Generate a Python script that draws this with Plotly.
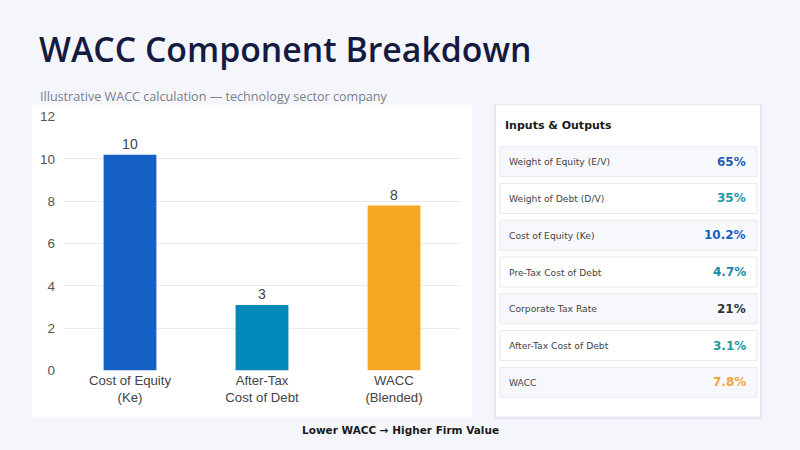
import plotly.graph_objects as go

W, H = 800, 450

# --- data ---
categories = ["Cost of Equity<br>(Ke)", "After-Tax<br>Cost of Debt", "WACC<br>(Blended)"]
bar_values = [10.2, 3.1, 7.8]
y_ticks = [0, 2, 4, 6, 8, 10, 12]

table_labels = [
    "Weight of Equity (E/V)",
    "Weight of Debt (D/V)",
    "Cost of Equity (Ke)",
    "Pre-Tax Cost of Debt",
    "Corporate Tax Rate",
    "After-Tax Cost of Debt",
    "WACC",
]
table_values = ["65%", "35%", "10.2%", "4.7%", "21%", "3.1%", "7.8%"]

# --- styles ---
bar_colors = ["#1560C4", "#0088B8", "#F5A623"]
value_colors = ["#1F5FAF", "#1A9AAA", "#1560C4", "#1A88AA", "#333333", "#1A9A9A", "#F0A63A"]
BG = "#F4F6FB"
NAVY = "#141A40"

# the capture squeezes the page a little vertically; undo that here
Y_SCALE, Y_OFF = 0.967, 6.3


def px_x(x):
    return x / W


def px_y(y):
    return 1 - ((y - Y_OFF) / Y_SCALE) / H


fig = go.Figure()

fig.add_trace(go.Bar(
    x=categories,
    y=bar_values,
    marker=dict(color=bar_colors, line=dict(width=0)),
    width=0.4,
    text=bar_values,
    texttemplate="%{y:.0f}",
    textposition="outside",
    textfont=dict(family="Liberation Sans, Arial", size=14, color="#444444"),
    cliponaxis=False,
    hovertemplate="%{x}: %{y:.1f}%<extra></extra>",
))

shapes = []
# white chart panel
shapes.append(dict(type="rect", xref="paper", yref="paper", layer="below",
                   x0=px_x(32), x1=px_x(472), y0=px_y(416), y1=px_y(104),
                   fillcolor="white", line=dict(width=0)))
# table card shadow + card
shapes.append(dict(type="rect", xref="paper", yref="paper", layer="below",
                   x0=px_x(494), x1=px_x(762), y0=px_y(419), y1=px_y(103),
                   fillcolor="#E4E7EF", line=dict(width=0)))
shapes.append(dict(type="rect", xref="paper", yref="paper", layer="below",
                   x0=px_x(496), x1=px_x(760), y0=px_y(416), y1=px_y(104),
                   fillcolor="white", line=dict(width=0)))

annotations = []
annotations.append(dict(text="WACC Component Breakdown", xref="paper", yref="paper",
                        x=px_x(37), y=px_y(48), xanchor="left", yanchor="middle", showarrow=False,
                        font=dict(family="Open Sans, Noto Sans", size=33.8, color=NAVY, weight=600)))
annotations.append(dict(text="Illustrative WACC calculation — technology sector company",
                        xref="paper", yref="paper", x=px_x(38), y=px_y(96),
                        xanchor="left", yanchor="middle", showarrow=False,
                        font=dict(family="Open Sans, Noto Sans", size=12.6, color="#7A7F8C")))
annotations.append(dict(text="<b>Lower WACC → Higher Firm Value</b>", xref="paper", yref="paper",
                        x=px_x(400), y=px_y(429), xanchor="center", yanchor="middle", showarrow=False,
                        font=dict(family="DejaVu Sans", size=10.5, color="#1A1A1A")))
annotations.append(dict(text="<b>Inputs &amp; Outputs</b>", xref="paper", yref="paper",
                        x=px_x(503), y=px_y(125), xanchor="left", yanchor="middle", showarrow=False,
                        font=dict(family="DejaVu Sans", size=11, color="#1A1A1A")))

row_top, row_h, row_step = 146, 30, 36.8
for i, (lab, val) in enumerate(zip(table_labels, table_values)):
    y0 = row_top + i * row_step
    fill = "#F7F8FC" if i % 2 == 0 else "white"
    shapes.append(dict(type="rect", xref="paper", yref="paper", layer="below",
                       x0=px_x(500), x1=px_x(757), y0=px_y(y0 + row_h), y1=px_y(y0),
                       fillcolor=fill, line=dict(color="#E6E8EE", width=1)))
    yc = px_y(y0 + row_h / 2)
    annotations.append(dict(text=lab, xref="paper", yref="paper", x=px_x(507), y=yc,
                            xanchor="left", yanchor="middle", showarrow=False,
                            font=dict(family="DejaVu Sans", size=9.2, color="#444444")))
    annotations.append(dict(text=f"<b>{val}</b>", xref="paper", yref="paper", x=px_x(748), y=yc,
                            xanchor="right", yanchor="middle", showarrow=False,
                            font=dict(family="DejaVu Sans", size=12, color=value_colors[i])))

fig.update_layout(
    width=W, height=H,
    margin=dict(l=0, r=0, t=0, b=0),
    paper_bgcolor=BG,
    plot_bgcolor="white",
    showlegend=False,
    shapes=shapes,
    annotations=annotations,
    xaxis=dict(domain=[px_x(64), px_x(460)], showgrid=False, showline=False, ticks="",
               tickfont=dict(family="Liberation Sans, Arial", size=13.2, color="#444444"),
               fixedrange=True),
    yaxis=dict(domain=[px_y(370), px_y(116)], range=[0, 12], tickvals=y_ticks,
               gridcolor="#ECECF0", zeroline=False, showline=False, ticks="",
               ticklabelstandoff=8,
               tickfont=dict(family="Liberation Sans, Arial", size=13.5, color="#555555"),
               fixedrange=True),
)

# strip the default page margins so the 800x450 figure fills the window
page_css = (
    "var s=document.createElement('style');"
    "s.textContent='html,body{margin:0;padding:0;overflow:hidden;background:#F4F6FB}';"
    "document.head.appendChild(s);"
)

fig.write_html("out.html", config={"displayModeBar": False}, post_script=page_css)
